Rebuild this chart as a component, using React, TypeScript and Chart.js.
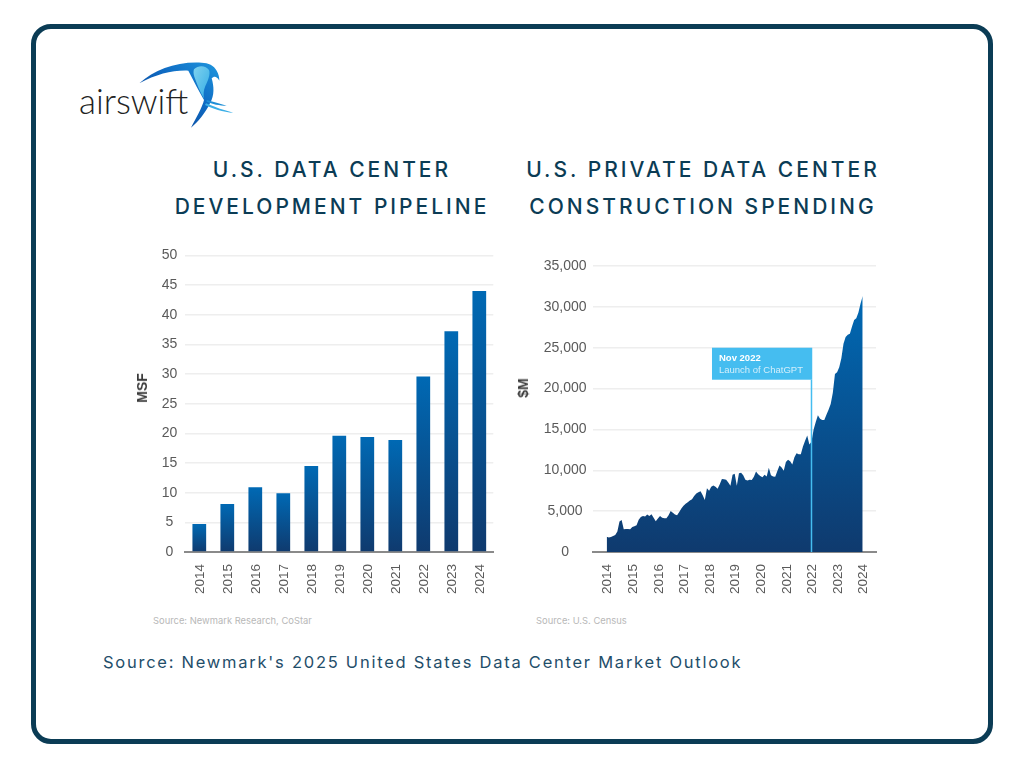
import { useEffect, useRef } from "react";
import type { CSSProperties } from "react";
import Chart from "chart.js/auto";

const barYears = ["2014", "2015", "2016", "2017", "2018", "2019", "2020", "2021", "2022", "2023", "2024"];
const pipelineValues = [4.7, 8.1, 10.9, 9.9, 14.5, 19.6, 19.4, 18.9, 29.6, 37.2, 44];

const pipelineTicks = [0, 5, 10, 15, 20, 25, 30, 35, 40, 45, 50];
const spendingTicks = [0, 5000, 10000, 15000, 20000, 25000, 30000, 35000];
const lineYears = [2014, 2015, 2016, 2017, 2018, 2019, 2020, 2021, 2022, 2023, 2024];

// monthly readings, Jan 2014 onward on the picture's axis
const spendingValues = [
  1880, 1760, 1850, 1950, 2090, 2500, 3720, 3930, 2780, 2820, 2800, 2780,
  3070, 3150, 3270, 3950, 4280, 4400, 4340, 4580, 4400, 4620, 4200, 3760,
  4100, 4420, 4200, 4130, 4130, 4500, 5030, 4800, 4600, 4500, 4900, 5330,
  5650, 5900, 6100, 6300, 6450, 6850, 7150, 7300, 7440, 6950, 6350, 7810,
  7500, 8000, 8140, 8000, 7750, 8300, 8920, 8900, 8830, 8500, 8100, 9450,
  9570, 8100, 9650, 9700, 9400, 8850, 8750, 8830, 8820, 9200, 9860, 9500,
  9300, 9150, 9450, 9250, 10300, 9400, 9250, 9200, 9900, 10600, 10350, 9950,
  11000, 11300, 11100, 10700, 11600, 12100, 11950, 11950, 12900, 13600, 14270, 13150,
  13500, 15000, 15900, 16750, 16300, 16150, 16150, 16800, 17400, 18100, 19500, 21770,
  22000, 22600, 23700, 25500, 26300, 26600, 26700, 27600, 28400, 28600, 29300, 30400,
  31320,
];

const launchX = 2022;
const launchTitle = "Nov 2022";
const launchText = "Launch of ChatGPT";

const NAVY = "#0b3c55";
const TICK_FONT = "'Liberation Sans', Arial, sans-serif";
const TICK_COLOR = "#5a5a5a";
const GRID_COLOR = "#eeeeee";
const BASE_COLOR = "#8a8a8a";

const tickFont = { family: TICK_FONT, size: 14 };
const yearFont = { family: TICK_FONT, size: 13.5 };

function blueGradient(ctx: CanvasRenderingContext2D, top: number, bottom: number) {
  const g = ctx.createLinearGradient(0, top, 0, bottom);
  g.addColorStop(0, "#0069b4");
  g.addColorStop(1, "#0f3a6e");
  return g;
}

// callout for the ChatGPT launch, anchored on the x scale
const launchPlugin = {
  id: "launchNote",
  afterDatasetsDraw(chart: any) {
    const { ctx, scales } = chart;
    const x = scales.x.getPixelForValue(launchX);
    const boxTop = scales.y.getPixelForValue(25000);
    const boxH = 32;
    const boxW = 99.5;
    ctx.save();
    ctx.strokeStyle = "#45bdf0";
    ctx.lineWidth = 1.5;
    ctx.beginPath();
    ctx.moveTo(x, boxTop + boxH);
    ctx.lineTo(x, scales.y.getPixelForValue(0));
    ctx.stroke();
    ctx.fillStyle = "#45bdf0";
    ctx.fillRect(x - boxW, boxTop, boxW + 0.75, boxH);
    ctx.textBaseline = "middle";
    ctx.fillStyle = "#ffffff";
    ctx.font = `bold 9.5px ${TICK_FONT}`;
    ctx.fillText(launchTitle, x - boxW + 7, boxTop + 11);
    ctx.fillStyle = "#d2eefb";
    ctx.font = `9.5px ${TICK_FONT}`;
    ctx.fillText(launchText, x - boxW + 7, boxTop + 23);
    ctx.restore();
  },
};

function PipelineChart() {
  const canvasRef = useRef<HTMLCanvasElement>(null);

  useEffect(() => {
    if (!canvasRef.current) return;
    const chart = new Chart(canvasRef.current, {
      type: "bar",
      data: {
        labels: barYears,
        datasets: [
          {
            label: "MSF",
            data: pipelineValues,
            barPercentage: 0.49,
            categoryPercentage: 1,
            backgroundColor: (c: any) => {
              const y = c.chart.scales.y;
              if (!y || !c.chart.chartArea) return "#0069b4";
              return blueGradient(c.chart.ctx, y.getPixelForValue(pipelineValues[c.dataIndex]), y.getPixelForValue(0));
            },
          },
        ],
      },
      options: {
        animation: false,
        responsive: false,
        layout: { padding: { top: 16.3, right: 11.7, left: 0, bottom: 0 } },
        plugins: { legend: { display: false }, tooltip: { enabled: false } },
        scales: {
          x: {
            afterFit: (s: any) => { s.height = 43; },
            grid: { display: false },
            border: { display: true, color: BASE_COLOR, width: 2 },
            ticks: { font: yearFont, color: TICK_COLOR, minRotation: 90, maxRotation: 90, padding: 4, labelOffset: 1, autoSkip: false },
          },
          y: {
            min: 0,
            max: 50,
            afterFit: (s: any) => { s.width = 60.3; },
            afterBuildTicks: (s: any) => { s.ticks = pipelineTicks.map((value) => ({ value })); },
            grid: { color: GRID_COLOR, lineWidth: 1.5, drawTicks: false },
            border: { display: false },
            ticks: { font: tickFont, color: TICK_COLOR, padding: 8, crossAlign: "center" },
          },
        },
      },
    } as any);
    return () => chart.destroy();
  }, []);

  return <canvas ref={canvasRef} width={380} height={356} style={{ position: "absolute", left: 125, top: 239 }} />;
}

function SpendingChart() {
  const canvasRef = useRef<HTMLCanvasElement>(null);

  useEffect(() => {
    if (!canvasRef.current) return;
    const chart = new Chart(canvasRef.current, {
      type: "line",
      data: {
        datasets: [
          {
            label: "$M",
            data: spendingValues.map((y, i) => ({ x: lineYears[0] + i / 12, y })),
            fill: "origin",
            pointRadius: 0,
            borderWidth: 0,
            tension: 0,
            backgroundColor: (c: any) => {
              const y = c.chart.scales.y;
              if (!y || !c.chart.chartArea) return "#0069b4";
              return blueGradient(c.chart.ctx, y.getPixelForValue(31320), y.getPixelForValue(0));
            },
          },
        ],
      },
      options: {
        animation: false,
        responsive: false,
        layout: { padding: { top: 16, right: 14, left: 0, bottom: 0 } },
        plugins: { legend: { display: false }, tooltip: { enabled: false } },
        scales: {
          x: {
            type: "linear",
            min: 2013.465,
            max: 2024.52,
            afterFit: (s: any) => { s.height = 43; },
            afterBuildTicks: (s: any) => { s.ticks = lineYears.map((value) => ({ value })); },
            grid: { display: false },
            border: { display: true, color: BASE_COLOR, width: 2 },
            ticks: {
              font: yearFont,
              color: TICK_COLOR,
              minRotation: 90,
              maxRotation: 90,
              padding: 4,
              labelOffset: 1,
              autoSkip: false,
              callback: (v: any) => String(v),
            },
          },
          y: {
            min: 0,
            max: 35000,
            afterFit: (s: any) => { s.width = 88; },
            afterBuildTicks: (s: any) => { s.ticks = spendingTicks.map((value) => ({ value })); },
            grid: { color: GRID_COLOR, lineWidth: 1.5, drawTicks: false },
            border: { display: false },
            ticks: {
              font: tickFont,
              color: TICK_COLOR,
              padding: 6.5,
              crossAlign: "center",
              callback: (v: any) => Number(v).toLocaleString("en-US"),
            },
          },
        },
      },
      plugins: [launchPlugin],
    } as any);
    return () => chart.destroy();
  }, []);

  return <canvas ref={canvasRef} width={385} height={345} style={{ position: "absolute", left: 505, top: 250 }} />;
}

function Logo() {
  return (
    <>
      <div
        style={{
          position: "absolute",
          left: 79,
          top: 79,
          fontFamily: "Lato, sans-serif",
          fontWeight: 300,
          fontSize: 35,
          lineHeight: "42px",
          color: "#222222",
        }}
      >
        airswift
      </div>
      <svg width={200} height={90} viewBox="0 0 600 270" style={{ position: "absolute", left: 60, top: 50 }}>
        <defs>
          <linearGradient id="wing" x1="0" y1="1" x2="1" y2="0">
            <stop offset="0" stopColor="#0a3a8c" />
            <stop offset="0.6" stopColor="#0f6cc4" />
            <stop offset="1" stopColor="#1f97de" />
          </linearGradient>
          <linearGradient id="head" x1="0" y1="0" x2="1" y2="1">
            <stop offset="0" stopColor="#7fd2ef" />
            <stop offset="1" stopColor="#35aee6" />
          </linearGradient>
        </defs>
        <path d="M238,100 C285,58 350,34 425,38 C445,38 462,46 470,62 C476,72 478,82 478,92 C470,78 462,78 455,85 C462,110 464,135 450,160 C435,190 415,215 393,233 C405,210 428,170 432,150 C418,125 402,95 385,62 C340,60 290,72 238,100Z" fill="url(#wing)" />
        <path d="M402,58 C415,44 438,46 447,60 C452,72 444,92 436,108 C430,122 430,135 432,146 C420,125 410,100 403,80 C400,72 400,64 402,58Z" fill="url(#head)" />
        <path d="M440,150 C460,155 480,162 500,167 C480,167 455,162 440,155Z" fill="#1f8fd6" />
        <path d="M438,160 C465,172 495,182 520,188 C490,187 455,175 435,165Z" fill="#3aaee6" />
      </svg>
    </>
  );
}

const titleStyle: CSSProperties = {
  position: "absolute",
  fontFamily: "Inter, 'Open Sans', sans-serif",
  fontWeight: 500,
  fontSize: 21,
  letterSpacing: 3,
  lineHeight: "26px",
  color: NAVY,
  whiteSpace: "nowrap",
  transform: "translateX(-50%)",
};

const smallSource: CSSProperties = {
  position: "absolute",
  fontFamily: "Inter, sans-serif",
  fontSize: 9.4,
  lineHeight: "12px",
  color: "#b8b8b8",
  whiteSpace: "nowrap",
};

const axisLabel: CSSProperties = {
  position: "absolute",
  fontFamily: TICK_FONT,
  fontWeight: 700,
  fontSize: 14,
  lineHeight: "16px",
  color: "#3a3a3a",
  transform: "translate(-50%, -50%) rotate(-90deg)",
};

export default function App() {
  return (
    <div style={{ position: "absolute", left: 0, top: 0, width: 1024, height: 768, background: "#ffffff", overflow: "hidden" }}>
      <div
        style={{
          position: "absolute",
          left: 31,
          top: 24,
          width: 952,
          height: 710,
          border: `5px solid ${NAVY}`,
          borderRadius: 20,
        }}
      />
      <Logo />
      <div style={{ ...titleStyle, left: 332, top: 157 }}>U.S. DATA CENTER</div>
      <div style={{ ...titleStyle, left: 332, top: 194 }}>DEVELOPMENT PIPELINE</div>
      <div style={{ ...titleStyle, left: 703, top: 157 }}>U.S. PRIVATE DATA CENTER</div>
      <div style={{ ...titleStyle, left: 703, top: 194 }}>CONSTRUCTION SPENDING</div>
      <PipelineChart />
      <SpendingChart />
      <div style={{ ...axisLabel, left: 141.7, top: 388 }}>MSF</div>
      <div style={{ ...axisLabel, left: 523.3, top: 388 }}>$M</div>
      <div style={{ ...smallSource, left: 153, top: 615 }}>Source: Newmark Research, CoStar</div>
      <div style={{ ...smallSource, left: 536, top: 615 }}>Source: U.S. Census</div>
      <div
        style={{
          position: "absolute",
          left: 103,
          top: 652,
          fontFamily: "Inter, sans-serif",
          fontSize: 16.5,
          letterSpacing: 1.75,
          lineHeight: "20px",
          color: "#1f4e6a",
          whiteSpace: "nowrap",
        }}
      >
        Source: Newmark's 2025 United States Data Center Market Outlook
      </div>
    </div>
  );
}
